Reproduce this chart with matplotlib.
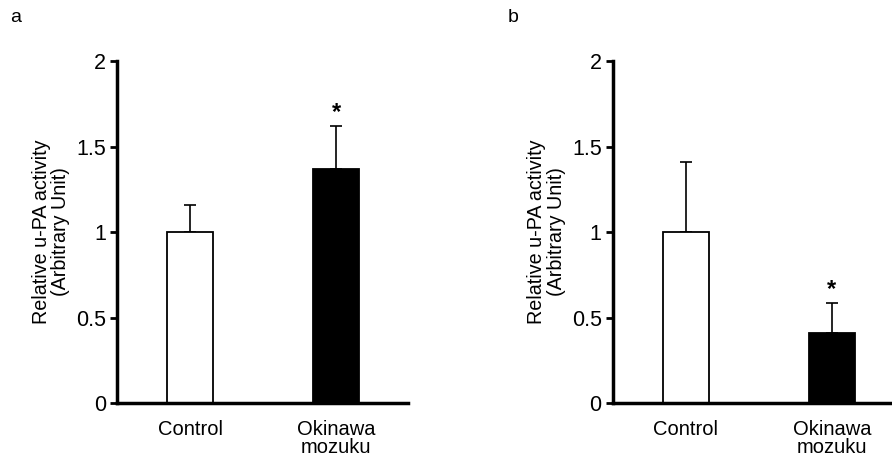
import numpy as np
import matplotlib
matplotlib.use("Agg")
from matplotlib import pyplot as plt

plt.rcParams['font.family'] = ['Liberation Sans', 'DejaVu Sans']

groups = ["Control", "Okinawa\nmozuku"]
colors = ["white", "black"]
yticks = [0, 0.5, 1, 1.5, 2]
ytick_labels = ["0", "0.5", "1", "1.5", "2"]

# panel a
means_a = [1.0, 1.37]
err_a = [0.16, 0.25]
sig_a = [False, True]

# panel b
means_b = [1.0, 0.41]
err_b = [0.41, 0.175]
sig_b = [False, True]

ylabel = "Relative u-PA activity\n(Arbitrary Unit)"


def draw_panel(ax, means, errs, sig):
    x = np.arange(len(groups))
    ax.bar(x, means, width=0.315, color=colors, edgecolor="black", linewidth=1.3, zorder=2)
    ax.errorbar(x, means, yerr=[np.zeros(len(errs)), errs], fmt="none",
                ecolor="black", elinewidth=1.2, capsize=4, capthick=1.2, zorder=1)
    for xi, m, e, s in zip(x, means, errs, sig):
        if s:
            ax.text(xi, m + e + 0.01, "*", ha="center", va="bottom",
                    fontsize=17, fontweight="bold")
    ax.set_xlim(-0.5, 1.49)
    ax.set_ylim(0, 2)
    ax.set_yticks(yticks)
    ax.set_yticklabels(ytick_labels, fontsize=15.5)
    ax.set_xticks(x)
    ax.set_xticklabels(groups, fontsize=14.5, linespacing=0.95)
    ax.tick_params(axis="x", length=0, pad=12)
    ax.tick_params(axis="y", direction="out", length=5, width=2, pad=3)
    for side in ["top", "right"]:
        ax.spines[side].set_visible(False)
    for side in ["left", "bottom"]:
        ax.spines[side].set_linewidth(2.5)
    ax.set_ylabel(ylabel, fontsize=14.2, labelpad=4, linespacing=1.05)


fig = plt.figure(figsize=(8.92, 4.59), dpi=100)
ax1 = fig.add_axes([0.1312, 0.122, 0.326, 0.745])
ax2 = fig.add_axes([0.687, 0.122, 0.326, 0.745])
draw_panel(ax1, means_a, err_a, sig_a)
draw_panel(ax2, means_b, err_b, sig_b)

fig.text(10 / 892, 1 - 17 / 459, "a", fontsize=14, ha="left", va="center")
fig.text(508 / 892, 1 - 17 / 459, "b", fontsize=14, ha="left", va="center")

fig.savefig("out.png", dpi=100)
